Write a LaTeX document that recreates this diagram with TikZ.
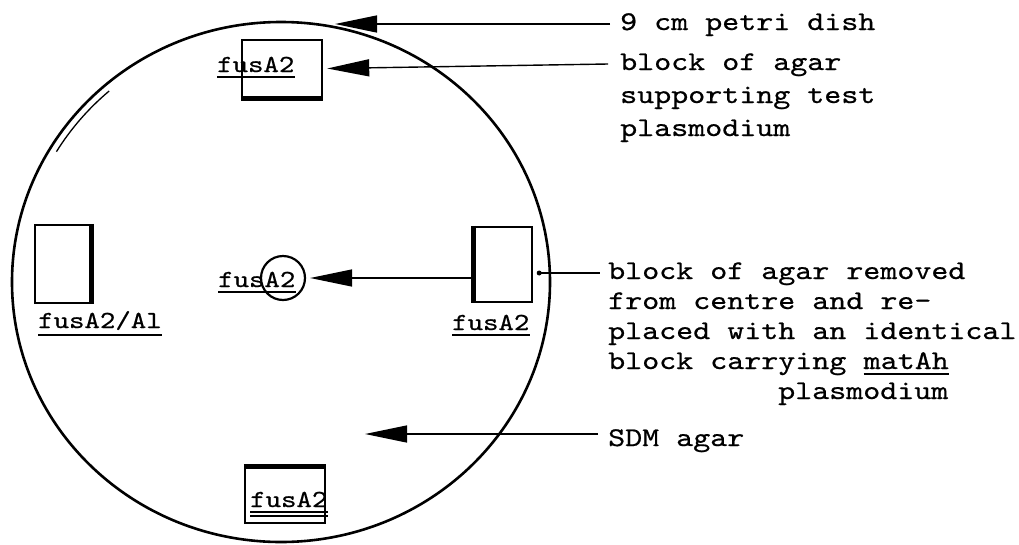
\documentclass[tikz,border=0pt]{standalone}
\usepackage{fontspec}
\usepackage{tikz}
\usetikzlibrary{arrows.meta,positioning,calc}
\newfontfamily\typewr[FakeStretch=1.2,FakeBold=0.6]{lmmono10-regular.otf}

\begin{document}
\begin{tikzpicture}[x=1pt,y=-1pt,
    dish/.style={line width=2.6pt},
    agarblock/.style={draw,line width=2.4pt,inner sep=0pt},
    pointer/.style={line width=1.4pt,-{Triangle[length=42pt,width=17pt]}},
    leader/.style={line width=1.4pt},
    note/.style={anchor=base west,inner sep=0pt,font=\typewr\fontsize{27}{30}\selectfont},
    strain/.style={anchor=base west,inner sep=0pt,font=\typewr\fontsize{24.5}{28}\selectfont},
    uline/.style={line width=1.6pt}]
  \useasboundingbox (0,0) rectangle (1019,544);
  % petri dish
  \draw[dish] (281,282) ellipse [x radius=269, y radius=260];
  \draw[line width=1.3pt] ([shift={(211:262 and 253)}]281,282) arc [start angle=211, end angle=229, x radius=262, y radius=253];
  % agar blocks
  \node[agarblock,minimum width=80pt,minimum height=57pt] (topblk) at (282,68.5) {};
  \draw[line width=5pt] (topblk.south west) -- (topblk.south east);
  \node[agarblock,minimum width=55pt,minimum height=78pt] (leftblk) at (62.5,264) {};
  \draw[line width=5pt] (leftblk.north east) -- (leftblk.south east);
  \node[agarblock,minimum width=57pt,minimum height=75pt] (rightblk) at (503.5,264.5) {};
  \draw[line width=5pt] (rightblk.north west) -- (rightblk.south west);
  \node[agarblock,minimum width=80pt,minimum height=55pt] (botblk) at (285,495.5) {};
  \draw[line width=5pt] (botblk.north west) -- (botblk.north east);
  \node[draw,circle,line width=2.2pt,minimum size=44pt,inner sep=0pt] (centre) at (283,278) {};
  % strain labels
  \node[strain] (lbltop) at (217,72) {fusA2};
  \node[strain] (lblleft) at (38,328) {fusA2/Al};
  \node[strain] (lblcen) at (218,287) {fusA2};
  \node[strain] (lblright) at (452,330) {fusA2};
  \node[strain] (lblbot) at (250,507) {fusA2};
  \draw[uline] ([yshift=-5pt]lbltop.base west) -- ([yshift=-5pt]lbltop.base east);
  \draw[uline] ([yshift=-7pt]lblleft.base west) -- ([yshift=-7pt]lblleft.base east);
  \draw[uline] ([yshift=-5pt]lblcen.base west) -- ([yshift=-5pt]lblcen.base east);
  \draw[uline] ([yshift=-5pt]lblright.base west) -- ([yshift=-5pt]lblright.base east);
  \draw[uline] ([yshift=-5pt]lblbot.base west) -- ([yshift=-5pt]lblbot.base east);
  \draw[uline] ([yshift=-9pt]lblbot.base west) -- ([yshift=-9pt]lblbot.base east);
  % notes on the right
  \node[note] (petri) at (620,30) {9 cm petri dish};
  \node[note] (agar1) at (620,70) {block of agar};
  \node[note] (agar2) at (620,103) {supporting test};
  \node[note] (agar3) at (620,136) {plasmodium};
  \node[note] (swap1) at (608,279) {block of agar removed};
  \node[note] (swap2) at (608,309) {from centre and re-};
  \node[note] (swap3) at (608,339) {placed with an identical};
  \node[note] (swap4) at (608,369) {block carrying};
  \node[note,right=17pt of swap4.base east,anchor=base west] (matah) {matAh};
  \draw[uline] ([yshift=-5pt]matah.base west) -- ([yshift=-5pt]matah.base east);
  \node[note] (swap5) at (778,399) {plasmodium};
  \node[note] (sdm) at (608,446) {SDM agar};
  % pointers
  \coordinate (dishtop) at (335,24);
  \coordinate (sdmtip) at (365,434);
  \draw[pointer] ([xshift=-10pt,yshift=6pt]petri.base west) -- (dishtop);
  \draw[pointer] ([xshift=-12pt,yshift=6pt]agar1.base west) -- ([xshift=4pt]topblk.east);
  \draw[pointer] ([yshift=-13.5pt]rightblk.west) -- ([xshift=4pt]centre.east);
  \fill ([xshift=6pt,yshift=-8.5pt]rightblk.east) circle [radius=2.5];
  \draw[leader] ([xshift=6pt,yshift=-8.5pt]rightblk.east) -- ([xshift=-8pt,yshift=6pt]swap1.base west);
  \draw[pointer] ([xshift=-10pt,yshift=12pt]sdm.base west) -- (sdmtip);
\end{tikzpicture}
\end{document}
